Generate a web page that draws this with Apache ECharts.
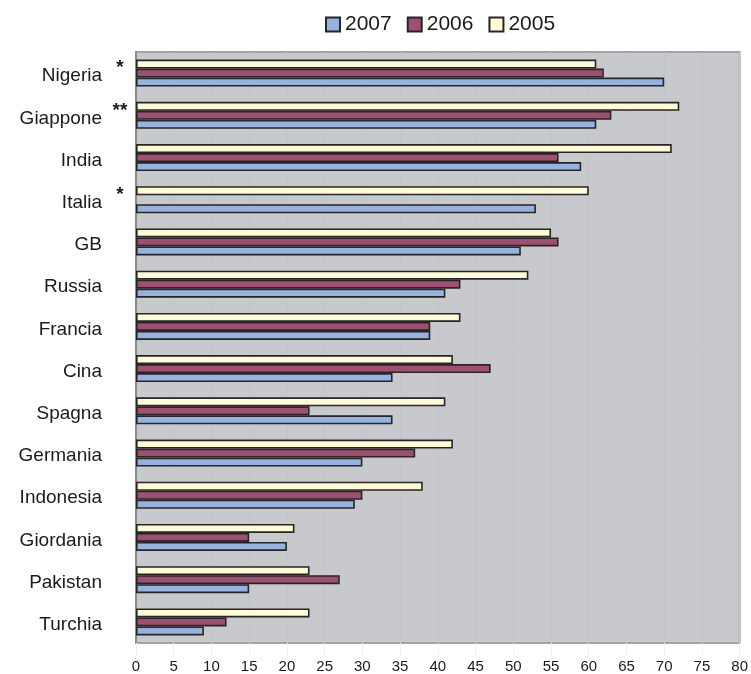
<!DOCTYPE html>
<html>
<head>
<meta charset="utf-8">
<script src="https://cdn.jsdelivr.net/npm/echarts@6/dist/echarts.min.js"></script>
<style>
  html, body { margin: 0; padding: 0; background: #ffffff; }
  #chart { width: 751px; height: 674px; }
</style>
</head>
<body>
<div id="chart"></div>
<script>
// Countries, top to bottom
const countries = ['Nigeria', 'Giappone', 'India', 'Italia', 'GB', 'Russia', 'Francia',
  'Cina', 'Spagna', 'Germania', 'Indonesia', 'Giordania', 'Pakistan', 'Turchia'];
// Footnote marks shown after some country names
const marks = ['*', '**', '', '*', '', '', '', '', '', '', '', '', '', ''];

// Values per year (null = no data)
const values2007 = [70, 61, 59, 53, 51, 41, 39, 34, 34, 30, 29, 20, 15, 9];
const values2006 = [62, 63, 56, null, 56, 43, 39, 47, 23, 37, 30, 15, 27, 12];
const values2005 = [61, 72, 71, 60, 55, 52, 43, 42, 41, 42, 38, 21, 23, 23];

const years = ['2007', '2006', '2005'];
const axisTicks = [0, 80, 5]; // min, max, step

const chart = echarts.init(document.getElementById('chart'), null, { renderer: 'canvas' });

const fontFamily = '"Liberation Sans", Arial, sans-serif';
const barBorder = { borderColor: '#262626', borderWidth: 1.6 };

function barSeries(name, data, color) {
  return {
    name: name,
    type: 'bar',
    data: data,
    barWidth: 9,
    barGap: '0%',
    itemStyle: Object.assign({ color: color }, barBorder),
    emphasis: { disabled: true }
  };
}

chart.setOption({
  animation: false,
  backgroundColor: '#ffffff',
  textStyle: { fontFamily: fontFamily },
  legend: {
    data: years,
    left: 320,
    top: 9,
    itemWidth: 14,
    itemHeight: 14,
    itemGap: 15,
    icon: 'rect',
    textStyle: { fontSize: 21, color: '#1a1a1a', fontFamily: fontFamily }
  },
  grid: {
    left: 136,
    right: 6,
    top: 52,
    bottom: 28,
    containLabel: false,
    show: true,
    backgroundColor: '#c8c9cd',
    borderColor: '#a4a4a6',
    borderWidth: 2
  },
  xAxis: {
    type: 'value',
    min: axisTicks[0],
    max: axisTicks[1],
    interval: axisTicks[2],
    axisLine: { show: false },
    axisTick: { show: true, length: 12, lineStyle: { color: '#efefef' } },
    axisLabel: { fontSize: 15, color: '#1a1a1a', margin: 16 },
    splitLine: { show: true, lineStyle: { color: '#c3c4c8', width: 1 } }
  },
  yAxis: {
    type: 'category',
    data: countries,
    inverse: true,
    axisLine: { show: true, lineStyle: { color: '#8a8a8a', width: 2 } },
    axisTick: { show: false },
    axisLabel: {
      margin: 4,
      formatter: function (value, idx) {
        return '{n|' + value + '}{s|' + (marks[idx] || '\u00a0') + '}';
      },
      rich: {
        n: { fontSize: 19, color: '#1a1a1a', fontFamily: fontFamily, padding: [6, 0, 0, 0] },
        s: { fontSize: 19, fontWeight: 'bold', color: '#1a1a1a', fontFamily: fontFamily,
             width: 24, align: 'left', padding: [0, 0, 10, 6] }
      }
    }
  },
  // The top bar of each group is 2005, then 2006, then 2007
  series: [
    barSeries(years[2], values2005, '#fefbd6'),
    barSeries(years[1], values2006, '#a04f73'),
    barSeries(years[0], values2007, '#95b3de')
  ]
});
</script>
</body>
</html>
